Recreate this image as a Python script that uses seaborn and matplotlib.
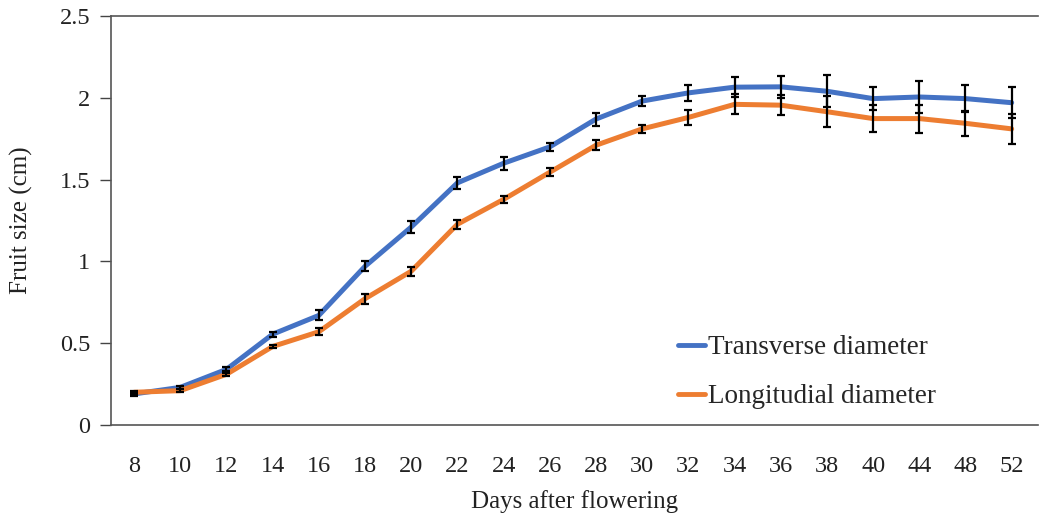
import matplotlib
matplotlib.use("Agg")
import matplotlib.pyplot as plt
import seaborn as sns
import pandas as pd
import numpy as np

days = ["8", "10", "12", "14", "16", "18", "20", "22", "24", "26",
        "28", "30", "32", "34", "36", "38", "40", "44", "48", "52"]
transverse = [0.19, 0.23, 0.34, 0.555, 0.67, 0.97, 1.21, 1.48, 1.60, 1.70,
              1.87, 1.98, 2.03, 2.065, 2.067, 2.04, 1.995, 2.005, 1.995, 1.97]
transverse_err = [0.01, 0.01, 0.012, 0.016, 0.03, 0.03, 0.035, 0.038, 0.04, 0.025,
                  0.04, 0.03, 0.047, 0.061, 0.067, 0.098, 0.071, 0.10, 0.082, 0.094]
longitudinal = [0.20, 0.21, 0.31, 0.48, 0.57, 0.772, 0.94, 1.227, 1.379, 1.545,
                1.71, 1.81, 1.88, 1.96, 1.955, 1.915, 1.873, 1.873, 1.844, 1.81]
longitudinal_err = [0.01, 0.01, 0.01, 0.012, 0.02, 0.03, 0.028, 0.028, 0.022, 0.025,
                    0.03, 0.025, 0.045, 0.061, 0.061, 0.094, 0.08, 0.086, 0.076, 0.092]

series_names = ["Transverse diameter", "Longitudial diameter"]
colors = ["#4472C4", "#ED7D31"]

df = pd.DataFrame({
    "day": days * 2,
    "size": transverse + longitudinal,
    "err": transverse_err + longitudinal_err,
    "series": [series_names[0]] * len(days) + [series_names[1]] * len(days),
})

sns.set_theme(style="white")
plt.rcParams["font.family"] = ["Liberation Serif", "DejaVu Serif"]

fig = plt.figure(figsize=(10.41, 5.19), dpi=100)
ax = fig.add_axes([111 / 1041, 1 - 425 / 519, (1038 - 111) / 1041, (425 - 16) / 519])

sns.lineplot(data=df, x="day", y="size", hue="series", palette=colors,
             linewidth=3.6, sort=False, ax=ax, zorder=2, legend=True)
pos = np.arange(len(days))
ax.errorbar(pos, transverse, yerr=transverse_err, fmt="none", ecolor="black",
            elinewidth=1.6, capsize=3, capthick=1.6, zorder=3)
ax.errorbar(pos, longitudinal, yerr=longitudinal_err, fmt="none", ecolor="black",
            elinewidth=1.6, capsize=3, capthick=1.6, zorder=3)

ax.set_ylim(0, 2.5)
ax.set_xlim(-0.5, len(days) - 0.43)
ax.set_yticks([0, 0.5, 1, 1.5, 2, 2.5])
ax.set_yticklabels(["0", "0.5", "1", "1.5", "2", "2.5"])
ax.tick_params(axis="y", which="both", left=True, length=8, width=1, color="#444444",
               labelsize=17.5, pad=7, labelcolor="#222222")
ax.tick_params(axis="x", bottom=False, labelsize=17.5, pad=16, labelcolor="#222222")

for s in ["left", "bottom", "top"]:
    ax.spines[s].set_visible(True)
    ax.spines[s].set_color("#555555")
    ax.spines[s].set_linewidth(1.2)
ax.spines["right"].set_visible(False)

ax.set_xlabel("Days after flowering", fontsize=18, labelpad=10, color="#222222")
ax.set_ylabel("Fruit size (cm)", fontsize=18, labelpad=19, color="#222222")

leg = ax.legend(loc="upper left", bbox_to_anchor=(0.612, 0.22), frameon=False,
                fontsize=19.5, handlelength=1.0, handletextpad=0.1, labelspacing=0.9,
                borderpad=0, borderaxespad=0)
for line in leg.get_lines():
    line.set_linewidth(3.5)

fig.savefig("out.png", dpi=100)
